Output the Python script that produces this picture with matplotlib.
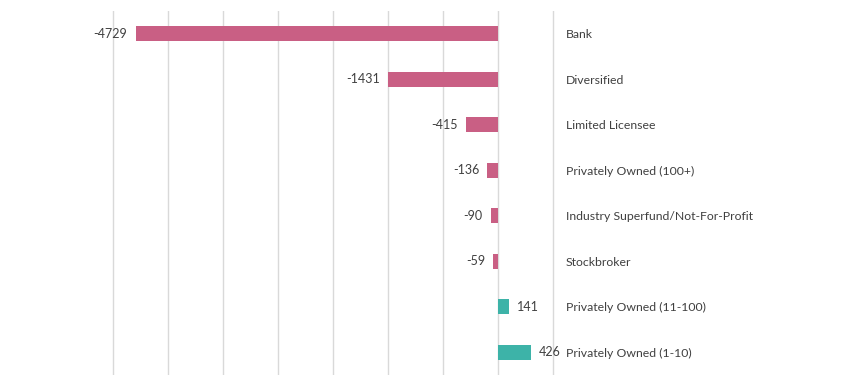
import matplotlib.pyplot as plt
import numpy as np

categories = ["Bank", "Diversified", "Limited Licensee", "Privately Owned (100+)",
              "Industry Superfund/Not-For-Profit", "Stockbroker",
              "Privately Owned (11-100)", "Privately Owned (1-10)"]
values = [-4729, -1431, -415, -136, -90, -59, 141, 426]

neg_color = "#C95F84"
pos_color = "#3DB3A8"
text_color = "#404040"

plt.rcParams['font.family'] = ['Lato', 'DejaVu Sans']

fig = plt.figure(figsize=(8.54, 3.81), dpi=100)
ax = fig.add_axes([111.5 / 854, 6 / 381, (554.7 - 111.5) / 854, 364 / 381])

y = np.arange(len(categories))
colors = [neg_color if v < 0 else pos_color for v in values]
ax.barh(y, values, height=0.33, color=colors, zorder=3)

for yi, v in zip(y, values):
    if v < 0:
        ax.annotate(str(v), (v, yi), xytext=(-6, 0), textcoords="offset points",
                    ha="right", va="center", fontsize=9, color=text_color)
    else:
        ax.annotate(str(v), (v, yi), xytext=(6, 0), textcoords="offset points",
                    ha="left", va="center", fontsize=9, color=text_color)

# gridlines every ~717 units, with a small margin so the outer ones are not clipped
grid_lo, grid_hi = -5020, 716
ax.set_xlim(grid_lo - 26, grid_hi + 26)
ax.set_xticks(np.linspace(grid_lo, grid_hi, 9))
ax.set_xticklabels([])
ax.tick_params(axis="x", length=0)
ax.grid(axis="x", color="#D9D9D9", linewidth=1, zorder=0)

ax.set_ylim(len(categories) - 0.5, -0.5)
ax.set_yticks(y)
ax.set_yticklabels(categories)
ax.yaxis.tick_right()
ax.tick_params(axis="y", length=0, pad=8, labelsize=8.8, labelcolor=text_color)

for s in ax.spines.values():
    s.set_visible(False)

plt.savefig("out.png", dpi=100)
